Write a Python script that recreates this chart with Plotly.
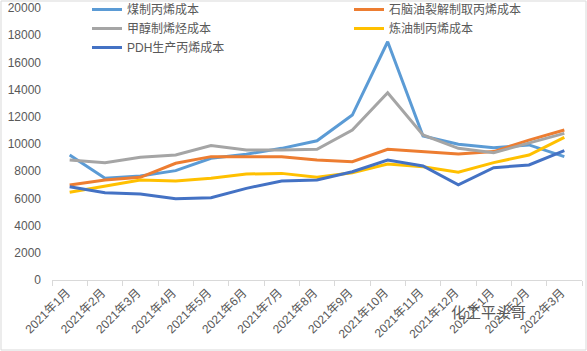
import plotly.graph_objects as go

months = ["2021年1月", "2021年2月", "2021年3月", "2021年4月", "2021年5月", "2021年6月",
          "2021年7月", "2021年8月", "2021年9月", "2021年10月", "2021年11月", "2021年12月",
          "2022年1月", "2022年2月", "2022年3月"]

coal = [9200, 7480, 7650, 8040, 8950, 9250, 9680, 10240, 12130, 17520, 10590, 9980, 9730, 9930, 9070]
naphtha = [6980, 7350, 7550, 8580, 9070, 9070, 9070, 8820, 8700, 9610, 9440, 9260, 9440, 10290, 11030]
methanol = [8820, 8620, 9020, 9190, 9880, 9560, 9560, 9610, 11030, 13770, 10660, 9680, 9360, 10050, 10780]
refinery = [6450, 6910, 7350, 7280, 7480, 7790, 7840, 7550, 7890, 8530, 8330, 7920, 8630, 9190, 10490]
pdh = [6860, 6420, 6320, 5980, 6050, 6740, 7280, 7350, 7960, 8820, 8380, 6990, 8260, 8460, 9510]

names = ["煤制丙烯成本", "石脑油裂解制取丙烯成本", "甲醇制烯烃成本", "炼油制丙烯成本", "PDH生产丙烯成本"]
series = [coal, naphtha, methanol, refinery, pdh]
colors = ["#5B9BD5", "#ED7D31", "#A5A5A5", "#FFC000", "#4472C4"]
legends = ["legend", "legend2", "legend", "legend2", "legend"]

FONT = "Liberation Sans, Noto Sans CJK SC, sans-serif"

fig = go.Figure()
for n, s, c, lg in zip(names, series, colors, legends):
    fig.add_trace(go.Scatter(x=months, y=s, name=n, mode="lines",
                             line=dict(color=c, width=3), legend=lg))

legend_common = dict(orientation="v", yanchor="top", xanchor="left",
                     xref="container", yref="paper",
                     bgcolor="rgba(0,0,0,0)", tracegroupgap=0,
                     font=dict(family=FONT, size=12, color="#595959"))

fig.update_layout(
    width=587, height=351,
    margin=dict(l=52, r=5, t=8, b=71, autoexpand=False),
    paper_bgcolor="white", plot_bgcolor="white",
    font=dict(family=FONT, size=12, color="#595959"),
    legend=dict(x=87 / 587, y=1 + 13 / 272, **legend_common),
    legend2=dict(x=349 / 587, y=1 + 13 / 272, **legend_common),
    xaxis=dict(type="category", range=[-0.5, len(months) - 0.5],
               tickangle=-45, tickson="boundaries",
               ticks="outside", ticklen=5, tickcolor="#D9D9D9",
               showline=True, linecolor="#D9D9D9", linewidth=1,
               ticklabelshift=-3, showgrid=False,
               tickfont=dict(size=12, color="#595959")),
    yaxis=dict(range=[0, 20000], dtick=2000, tickformat="d", showgrid=False,
               zeroline=False, showline=False, ticklabelstandoff=10,
               tickfont=dict(size=12, color="#595959")),
    shapes=[dict(type="rect", xref="paper", yref="paper",
                 x0=-51/530, x1=1 + 4/530, y0=-70/272, y1=1 + 7/272,
                 line=dict(color="#D9D9D9", width=1), fillcolor="rgba(0,0,0,0)")],
    annotations=[dict(text="化工平头哥", xref="paper", yref="paper",
                      x=(528 - 52) / 530, y=-(323 - 280) / 272, showarrow=False,
                      font=dict(size=15, color="#595959"))],
)

fig.write_html("out.html")
